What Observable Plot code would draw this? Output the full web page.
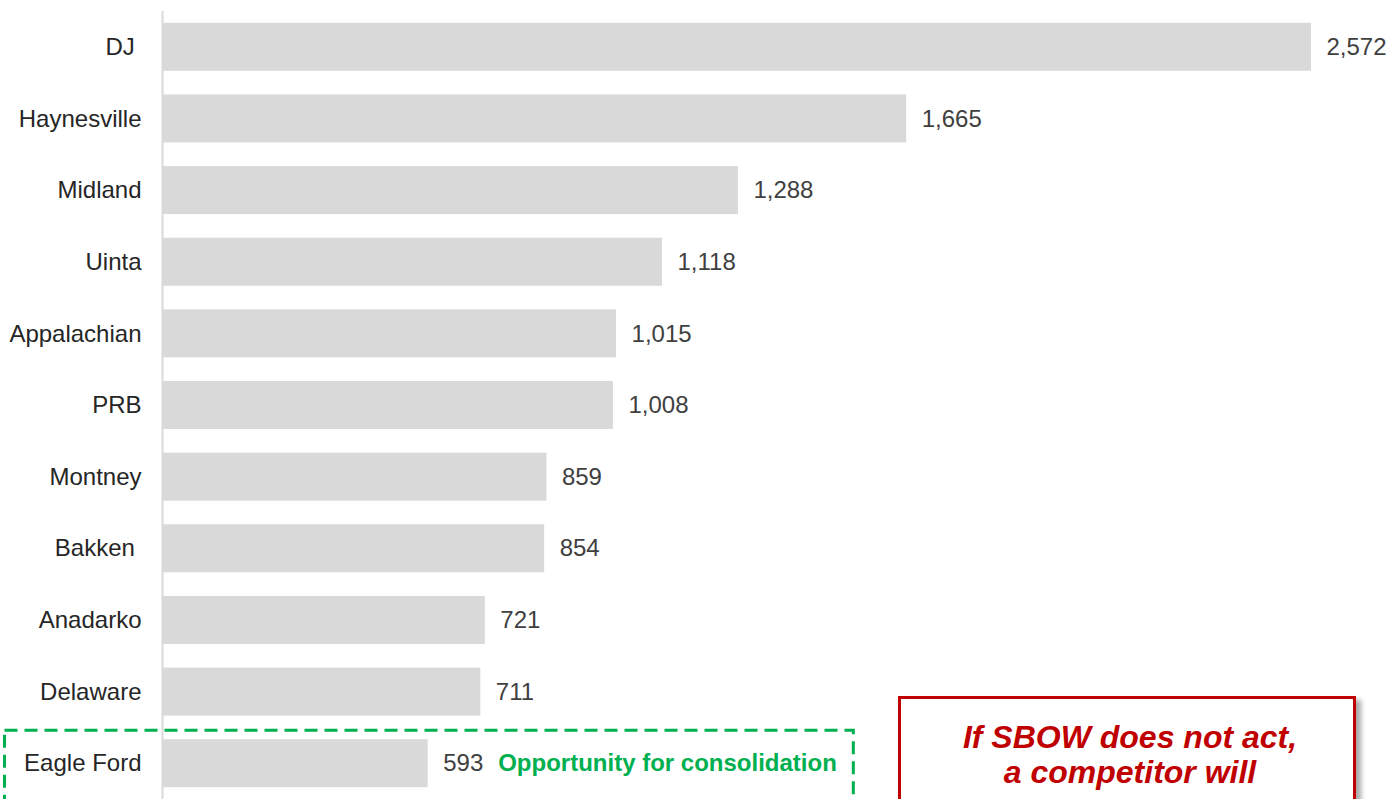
<!DOCTYPE html>
<html>
<head>
<meta charset="utf-8">
<script src="https://cdn.jsdelivr.net/npm/d3@7"></script>
<script src="https://cdn.jsdelivr.net/npm/@observablehq/plot@0.6"></script>
<style>
  html, body { margin: 0; padding: 0; overflow: hidden; background: #fff; }
  #wrap { position: relative; width: 1390px; height: 799px; overflow: hidden; }
  #wrap svg text { white-space: pre; }
  .callout {
    position: absolute; left: 898px; top: 696px; width: 458px; height: 150px;
    box-sizing: border-box; border: 3px solid #C00000; background: #fff;
    box-shadow: 5px 4px 5px rgba(0,0,0,0.35);
    font: italic bold 32px "Liberation Sans", Arial, sans-serif; color: #C00000;
    text-align: center; line-height: 35px; padding-top: 21px; padding-left: 6px;
  }
</style>
</head>
<body>
<div id="wrap"></div>
<script>
// Basin names (top to bottom) and their values
const regions = ["DJ ", "Haynesville", "Midland", "Uinta", "Appalachian", "PRB",
                 "Montney", "Bakken ", "Anadarko", "Delaware", "Eagle Ford"];
const volumes = [2572, 1665, 1288, 1118, 1015, 1008, 859, 854, 721, 711, 593];
const highlight = "Eagle Ford";
const highlightNote = "Opportunity for consolidation";
const calloutLines = ["If SBOW does not act,", "a competitor will"];

const rows = regions.map((region, i) => ({region, value: volumes[i]}));
const fmt = d3.format(",");
const font = '"Liberation Sans", Arial, sans-serif';
const noteOffset = 70;

const chart = Plot.plot({
  width: 1390,
  height: 799,
  marginLeft: 163,
  marginRight: 79,
  marginTop: 11,
  marginBottom: 0,
  style: {fontFamily: font, fontSize: "24px", background: "#fff", overflow: "visible"},
  x: {domain: [0, d3.max(volumes)], axis: null},
  y: {domain: regions, paddingInner: 0.33, paddingOuter: 0.165, round: false, label: null, axis: null},
  marks: [
    Plot.barX(rows, {x: "value", y: "region", fill: "#D9D9D9"}),
    Plot.ruleX([0], {stroke: "#D9D9D9", strokeWidth: 2, dx: -1}),
    Plot.axisY({tickSize: 0, tickPadding: 22, fontSize: 24, color: "#262626", label: null}),
    Plot.text(rows, {
      x: "value", y: "region", text: d => fmt(d.value),
      textAnchor: "start", dx: 15, fill: "#404040", fontSize: 24
    }),
    Plot.text(rows.filter(d => d.region === highlight), {
      x: "value", y: "region", text: () => highlightNote,
      textAnchor: "start", dx: noteOffset, fill: "#00B050", fontWeight: "bold", fontSize: 24
    })
  ]
});

document.getElementById("wrap").appendChild(chart);

// Dashed frame around the highlighted row, from the y band and the note's extent
const x = chart.scale("x");
const y = chart.scale("y");
const bandTop = y.apply(highlight);
const svg = d3.select(chart);
const note = svg.selectAll("text").filter(function () { return this.textContent === highlightNote; }).node();
const noteRight = x.apply(volumes[regions.indexOf(highlight)]) + noteOffset + note.getComputedTextLength();
const left = 4.5;
svg.append("rect")
  .attr("x", left)
  .attr("y", bandTop - 9)
  .attr("width", noteRight + 17 - left)
  .attr("height", 120)
  .attr("fill", "none")
  .attr("stroke", "#00B050")
  .attr("stroke-width", 3)
  .attr("stroke-dasharray", "13,7");

// Callout box
const box = document.createElement("div");
box.className = "callout";
box.innerHTML = calloutLines.join("<br>");
document.getElementById("wrap").appendChild(box);
</script>
</body>
</html>
